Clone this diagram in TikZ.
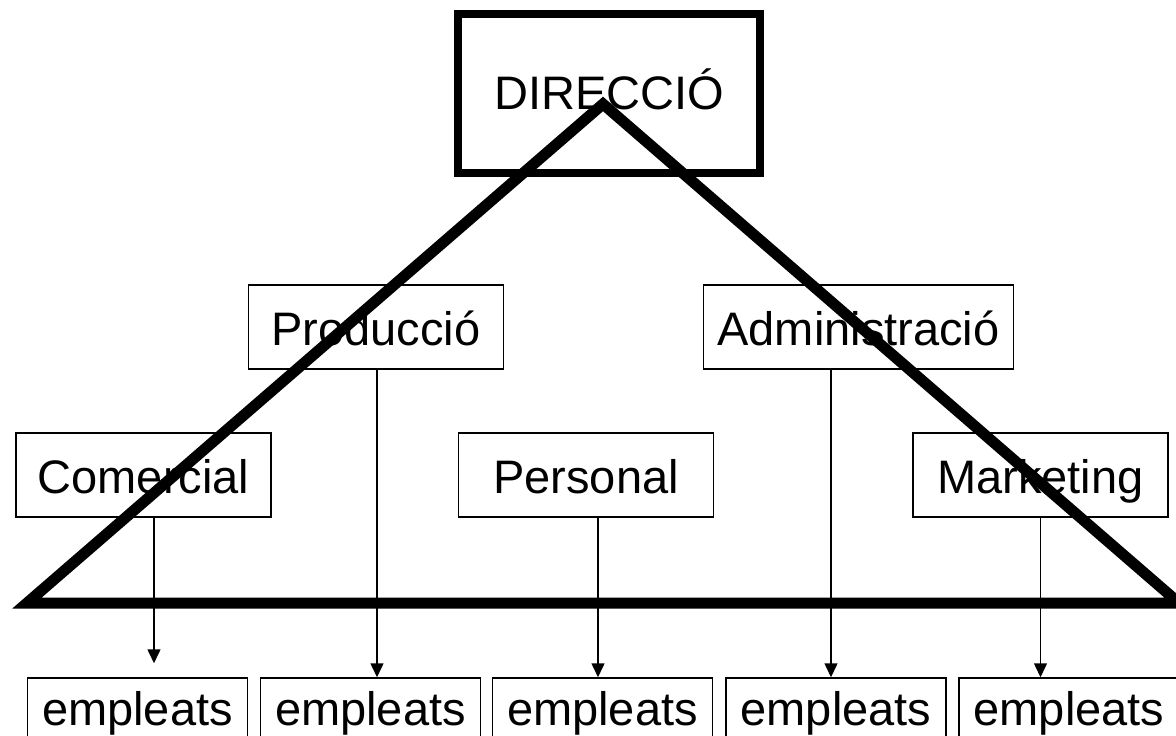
\documentclass[tikz,border=0pt]{standalone}
\usepackage{fontspec}
\setmainfont{Liberation Sans}
\usetikzlibrary{arrows.meta}
\usetikzlibrary{calc}
\tikzstyle{direccio}=[
        rectangle,
        draw,
        line width=8pt,
        minimum width=302pt,
        minimum height=159pt,
        text height=34pt,
        text depth=2.4pt,
        font=\fontsize{47}{56}\selectfont
]
\tikzstyle{depart}=[rectangle,draw,line width=1.5pt,inner sep=4pt,
minimum width=255pt,minimum height=84pt,text height=40pt,text depth=2.4pt,
font=\fontsize{47}{56}\selectfont]
\tikzstyle{empleats}=[depart,minimum width=220pt,minimum height=62pt,
text height=34pt,text depth=2pt]
\tikzstyle{fletxa}=[-{Triangle[width=13pt,length=14pt]},line width=1.5pt]
\tikzstyle{piramide}=[line width=11pt]

\begin{document}
\begin{tikzpicture}[x=1pt,y=-1pt]
\useasboundingbox (0,0) rectangle (1176,736);
\node[direccio] (dir) at (609,93.5) {DIRECCIÓ};
\node[depart] (prod) at (376,327) {Producció};
\node[depart,minimum width=310pt] (adm) at (858.5,327) {Administració};
\node[depart] (com) at (143.5,475) {Comercial};
\node[depart] (pers) at (586,475) {Personal};
\node[depart] (mark) at (1040.5,475) {Marketing};
\node[empleats] (e1) at (137.5,709) {empleats};
\node[empleats] (e2) at (370.5,709) {empleats};
\node[empleats] (e3) at (602.5,709) {empleats};
\node[empleats] (e4) at (836,709) {empleats};
\node[empleats] (e5) at (1069,709) {empleats};
%fletxes cap als empleats
\draw[fletxa,shorten >=14pt] ($(com.south)+(10.5,0)$) -- ($(com.south |- e1.north)+(10.5,0)$);
\draw[fletxa] ($(prod.south)+(1,0)$) -- ($(prod.south |- e2.north)+(1,0)$);
\draw[fletxa] ($(pers.south)+(12,0)$) -- ($(pers.south |- e3.north)+(12,0)$);
\draw[fletxa] ($(adm.south)+(-27.5,0)$) -- ($(adm.south |- e4.north)+(-27.5,0)$);
\draw[fletxa] (mark.south) -- (mark.south |- e5.north);

%piramide
\draw[piramide] (603,104) -- (27,603) -- (1179,603) -- cycle;
\end{tikzpicture}
\end{document}
